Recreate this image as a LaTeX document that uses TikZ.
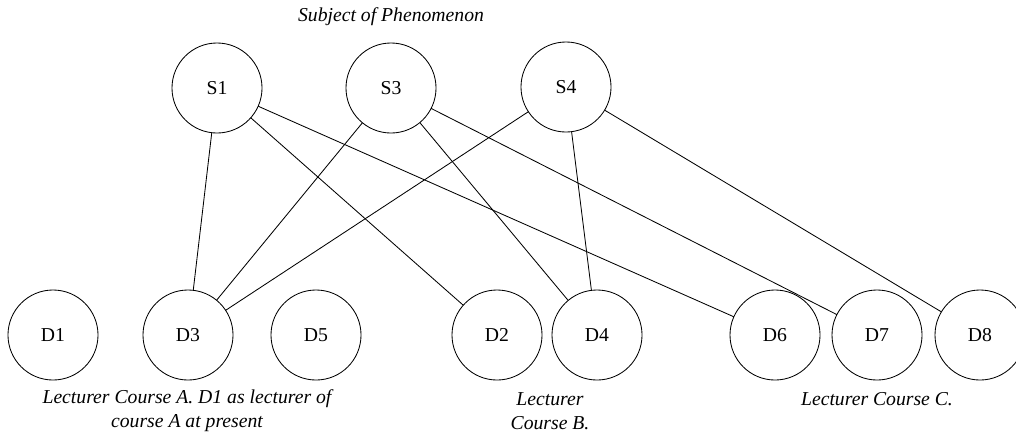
\documentclass[tikz,border=0pt]{standalone}
\usepackage{fontspec}
\setmainfont{Liberation Serif}
\usepackage{tikz}

\tikzset{
	vertex/.style={draw,circle,inner sep=0,outer sep=0,minimum size=2.25cm,line width=0.6pt,font=\fontsize{14}{16}\selectfont},
	caption/.style={align=center,font=\fontsize{14}{17}\selectfont\itshape}
}

\begin{document}
\begin{tikzpicture}[x=0.025cm,y=-0.025cm]
	\useasboundingbox (0,0) rectangle (1016,436);
	\node[vertex] (s1) at (217,88) {S1};
	\node[vertex] (s3) at (391,88) {S3};
	\node[vertex] (s4) at (566,87) {S4};
	\node[vertex] (d1) at (53,335) {D1};
	\node[vertex] (d3) at (188,335) {D3};
	\node[vertex] (d5) at (316,335) {D5};
	\node[vertex] (d2) at (497,335) {D2};
	\node[vertex] (d4) at (597,335) {D4};
	\node[vertex] (d6) at (775,335) {D6};
	\node[vertex] (d7) at (877,335) {D7};
	\node[vertex] (d8) at (980,335) {D8};
	\node[caption] (top) at (391,17) {Subject of Phenomenon};
	\node[caption] (capa) at (187,411) {Lecturer Course A. D1 as lecturer of\\course A at present};
	\node[caption] (capb) at (550,411) {Lecturer\\Course B.};
	\node[caption] (capc) at (877,399) {Lecturer Course C.};
	\draw[line width=0.6pt] (s1) -- (d3);
	\draw[line width=0.6pt] (s1) -- (d2);
	\draw[line width=0.6pt] (s1) -- (d6);
	\draw[line width=0.6pt] (s3) -- (d3);
	\draw[line width=0.6pt] (s3) -- (d4);
	\draw[line width=0.6pt] (s3) -- (d7);
	\draw[line width=0.6pt] (s4) -- (d3);
	\draw[line width=0.6pt] (s4) -- (d4);
	\draw[line width=0.6pt] (s4) -- (d8);
\end{tikzpicture}
\end{document}
